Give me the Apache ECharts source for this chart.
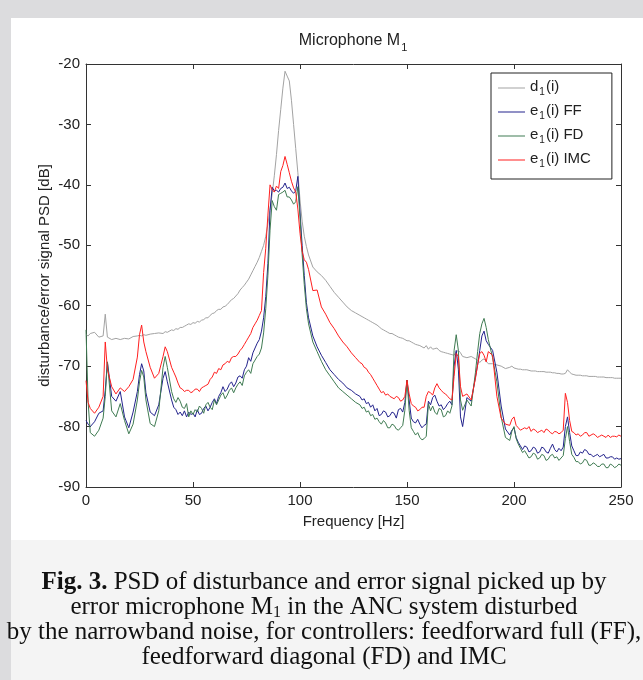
<!DOCTYPE html>
<html><head><meta charset="utf-8">
<script src="https://cdn.jsdelivr.net/npm/echarts@6/dist/echarts.min.js"></script>
<style>html,body{margin:0;padding:0;background:#dcdcde}#c{width:643px;height:680px}</style>
</head><body><div id="c"></div>
<script>
// frequency grid [Hz]
const freq = [
0,1,2,4,6,8,9,10,12,14,
16,18,20,22,24,25,26,27,28,30,
32,34,36,37,38,40,41,42,43,44,
45,46,47,48,49,50,51,52,53,54,
55,56,57,58,59,60,61,62,63,64,
65,66,67,68,69,70,71,72,73,74,
75,76,77,78,79,80,81,82,83,84,
85,86,87,88,89,90,91,92,93,94,
95,96,97,98,99,100,101,102,103,104,
106,108,110,112,114,116,118,120,122,124,
126,128,129,130,131,132,133,134,135,136,
137,138,139,140,141,142,143,144,145,146,
147,148,149,150,151,152,153,154,155,156,
157,158,159,160,161,162,163,164,165,166,
167,168,169,170,171,172,173,174,175,176,
178,180,182,183,184,185,186,187,188,190,
192,194,196,198,199,200,201,202,203,204,
205,206,207,208,209,210,211,212,213,214,
215,216,217,218,219,220,221,222,223,224,
225,226,227,228,229,230,231,232,233,234,
235,236,237,238,239,240,241,242,243,244,
245,246,247,248,249,250];
// d1(i) disturbance PSD [dB]
const d1 = [
-64.8,-65.0,-64.6,-64.4,-65.2,-65.0,-61.4,-65.2,-65.6,-65.4,
-65.6,-65.4,-65.5,-65.1,-65.0,-64.9,-65.0,-64.8,-64.9,-64.7,
-64.6,-64.5,-64.6,-64.3,-64.4,-64.0,-64.1,-63.8,-63.9,-63.6,
-63.6,-63.4,-63.2,-63.0,-63.1,-62.8,-62.9,-62.6,-62.7,-62.4,
-62.3,-62.0,-62.0,-61.6,-61.3,-61.2,-60.8,-60.6,-60.6,-60.2,
-60.1,-59.8,-59.4,-59.0,-58.8,-58.4,-58.0,-57.4,-57.0,-56.6,
-56.1,-55.6,-54.9,-54.2,-53.5,-52.8,-52.0,-51.0,-50.0,-48.5,
-46.5,-44.0,-41.5,-38.5,-35.0,-31.0,-27.5,-24.0,-21.2,-22.0,
-22.8,-26.0,-30.0,-34.0,-38.0,-42.5,-46.0,-48.5,-50.2,-51.6,
-53.6,-54.4,-55.0,-55.8,-56.8,-57.8,-58.6,-59.4,-60.2,-60.8,
-61.2,-61.6,-61.8,-62.0,-62.2,-62.4,-62.6,-62.8,-63.0,-63.2,
-63.5,-63.8,-64.0,-64.2,-64.4,-64.6,-64.6,-64.8,-65.0,-65.2,
-65.3,-65.4,-65.6,-65.8,-65.8,-66.0,-66.2,-66.4,-66.5,-66.6,
-66.8,-67.0,-66.6,-67.2,-66.8,-67.2,-67.1,-67.0,-67.4,-67.6,
-67.7,-67.8,-67.9,-68.0,-68.1,-68.2,-67.6,-67.4,-67.8,-68.4,
-68.6,-68.4,-68.8,-69.0,-69.4,-69.0,-68.8,-69.2,-69.6,-69.6,
-69.8,-70.0,-70.4,-70.2,-70.0,-70.3,-70.4,-70.5,-70.5,-70.6,
-70.6,-70.6,-70.7,-70.8,-70.8,-70.8,-70.9,-70.9,-70.9,-70.9,
-71.0,-71.0,-71.0,-71.1,-71.1,-71.2,-71.2,-71.3,-71.3,-71.2,
-70.6,-71.0,-71.3,-71.4,-71.5,-71.5,-71.5,-71.6,-71.6,-71.6,
-71.7,-71.7,-71.7,-71.7,-71.8,-71.8,-71.8,-71.8,-71.9,-71.9,
-71.9,-71.9,-72.0,-72.0,-72.0,-72.0];
// e1(i) FF
const eFF = [
-79.0,-79.6,-80.0,-79.2,-77.8,-77.4,-74.0,-69.3,-75.0,-75.8,
-74.2,-78.4,-80.2,-77.6,-74.2,-71.4,-69.6,-70.8,-74.4,-77.6,
-78.2,-76.4,-72.0,-70.9,-72.6,-75.6,-76.8,-77.2,-78.0,-77.6,
-78.2,-77.4,-78.4,-77.6,-78.0,-77.8,-78.4,-77.2,-78.0,-77.8,
-77.0,-76.6,-77.4,-76.8,-76.0,-75.4,-76.2,-75.0,-74.4,-73.4,
-74.2,-73.8,-73.0,-72.6,-73.4,-72.8,-71.8,-71.6,-72.0,-70.6,
-70.0,-68.6,-69.2,-67.8,-67.0,-66.2,-65.6,-64.2,-62.0,-58.5,
-53.0,-44.2,-40.4,-41.0,-40.9,-41.2,-40.6,-40.4,-39.7,-40.6,
-40.4,-41.0,-41.4,-41.0,-38.6,-44.5,-50.0,-55.0,-59.5,-62.0,
-65.0,-66.8,-68.2,-69.4,-70.6,-71.4,-72.2,-72.8,-73.6,-74.0,
-74.6,-75.0,-75.6,-75.4,-76.2,-76.0,-76.8,-76.4,-77.4,-77.0,
-78.2,-78.0,-77.4,-77.6,-78.4,-78.2,-77.6,-77.8,-78.6,-77.2,
-77.0,-77.6,-76.0,-72.3,-75.6,-78.6,-79.2,-79.4,-78.8,-79.6,
-80.2,-79.8,-79.6,-75.8,-76.4,-75.2,-74.8,-75.8,-76.6,-76.4,
-77.2,-76.8,-76.2,-75.8,-76.4,-70.0,-67.4,-70.5,-78.4,-80.0,
-75.2,-75.8,-71.8,-69.8,-67.4,-65.0,-64.2,-65.8,-66.4,-67.4,
-71.0,-76.6,-80.4,-81.4,-80.6,-80.2,-81.8,-82.6,-83.2,-83.8,
-83.2,-83.4,-84.2,-84.0,-83.4,-83.6,-84.4,-84.2,-83.4,-83.6,
-84.2,-84.4,-83.6,-82.9,-83.8,-84.2,-83.6,-84.0,-83.4,-80.0,
-78.4,-81.0,-83.2,-84.0,-84.8,-84.8,-84.2,-84.4,-83.8,-84.0,
-84.6,-84.6,-85.0,-84.8,-84.6,-85.0,-84.8,-84.6,-85.2,-85.2,
-85.0,-85.0,-85.4,-85.2,-85.4,-85.3];
// e1(i) FD
const eFD = [
-64.0,-76.0,-81.0,-81.6,-80.6,-78.6,-75.0,-69.3,-77.4,-78.4,
-76.2,-79.0,-81.2,-79.6,-75.6,-72.6,-70.7,-71.8,-75.6,-79.5,
-80.0,-77.4,-70.2,-68.4,-70.2,-74.2,-75.4,-76.0,-75.2,-75.8,
-76.8,-77.0,-76.2,-78.4,-77.4,-78.0,-77.2,-77.6,-76.6,-77.0,
-77.8,-76.4,-76.0,-76.8,-77.2,-75.6,-76.4,-75.6,-74.8,-74.4,
-75.4,-74.8,-74.0,-73.6,-74.4,-73.6,-73.0,-72.6,-73.2,-71.6,
-71.0,-70.6,-71.2,-69.6,-69.0,-68.4,-68.0,-67.0,-64.5,-60.5,
-55.0,-47.5,-42.6,-43.6,-44.2,-41.6,-41.4,-41.2,-40.9,-42.0,
-42.0,-42.5,-43.2,-42.8,-40.3,-45.3,-51.5,-56.5,-60.5,-63.0,
-66.0,-67.6,-69.2,-70.6,-71.6,-72.6,-73.6,-74.2,-74.8,-75.4,
-76.0,-76.4,-77.0,-76.8,-77.6,-77.4,-78.2,-78.0,-78.8,-78.6,
-79.2,-79.6,-79.0,-79.4,-80.2,-80.2,-79.6,-79.8,-80.4,-80.6,
-80.2,-79.8,-77.3,-72.3,-77.3,-80.2,-80.8,-81.4,-81.0,-81.8,
-82.2,-82.0,-81.6,-76.2,-77.4,-76.6,-77.6,-78.0,-77.0,-77.2,
-78.4,-78.2,-77.4,-77.8,-76.6,-67.4,-64.8,-67.4,-75.6,-77.3,
-75.6,-76.6,-71.0,-67.6,-64.6,-63.0,-62.1,-63.6,-65.6,-68.6,
-72.6,-78.4,-81.8,-82.3,-80.8,-80.0,-82.0,-82.9,-83.6,-84.3,
-84.0,-84.6,-85.2,-85.0,-84.4,-84.6,-85.4,-85.2,-84.6,-84.8,
-85.6,-85.4,-84.8,-84.6,-85.2,-85.0,-85.6,-85.2,-84.8,-82.0,
-80.0,-82.5,-84.6,-85.1,-85.8,-85.8,-86.2,-86.0,-85.4,-85.6,
-86.4,-86.4,-86.0,-86.2,-86.6,-86.6,-86.2,-86.2,-86.8,-86.8,
-86.2,-86.4,-86.8,-86.6,-86.2,-86.4];
// e1(i) IMC
const eIMC = [
-72.4,-76.0,-77.0,-77.8,-76.8,-75.0,-66.0,-70.5,-73.4,-74.6,
-73.6,-74.2,-73.4,-72.2,-68.5,-64.8,-63.2,-66.0,-67.6,-70.2,
-72.0,-71.2,-68.4,-66.8,-67.6,-70.2,-71.0,-71.8,-72.8,-73.6,
-73.8,-74.2,-74.0,-74.0,-74.4,-74.2,-73.8,-73.8,-74.2,-73.6,
-73.4,-73.2,-73.0,-72.2,-71.8,-71.0,-71.2,-70.4,-70.6,-69.8,
-69.6,-69.2,-69.4,-68.6,-68.4,-68.4,-68.0,-67.4,-67.0,-66.4,
-65.8,-65.2,-64.6,-63.6,-63.0,-62.4,-61.6,-60.8,-54.5,-50.5,
-45.0,-40.0,-40.8,-41.2,-40.2,-40.6,-37.8,-36.8,-35.3,-36.6,
-38.0,-39.4,-40.5,-41.2,-44.0,-48.0,-51.0,-52.4,-52.8,-54.0,
-57.5,-57.4,-60.2,-61.4,-62.8,-63.8,-65.0,-66.0,-66.8,-67.8,
-68.6,-69.4,-69.6,-70.2,-70.4,-71.0,-71.4,-72.0,-72.6,-73.2,
-73.8,-74.4,-74.2,-74.8,-74.6,-75.0,-75.2,-75.4,-75.0,-75.2,
-75.8,-75.6,-75.0,-72.3,-74.6,-76.2,-76.6,-76.8,-77.4,-77.2,
-76.8,-76.8,-75.0,-74.2,-74.4,-74.8,-73.6,-72.9,-73.6,-74.0,
-74.4,-74.6,-75.0,-75.4,-75.6,-71.7,-67.9,-68.4,-73.4,-75.0,
-74.6,-75.6,-72.0,-69.8,-67.9,-67.6,-68.2,-69.3,-67.6,-68.2,
-75.0,-78.6,-79.6,-79.8,-78.8,-78.4,-79.8,-80.2,-80.6,-80.4,
-80.2,-80.4,-80.0,-80.8,-80.4,-80.6,-81.0,-80.8,-80.6,-81.0,
-80.4,-80.6,-81.0,-81.2,-80.8,-80.9,-81.2,-81.0,-80.6,-74.5,
-76.0,-79.0,-80.8,-81.0,-81.4,-81.2,-81.6,-81.4,-81.0,-81.0,
-81.6,-81.4,-81.2,-81.4,-81.8,-81.6,-81.4,-81.6,-81.8,-81.4,
-81.8,-81.6,-81.6,-81.7,-81.4,-81.6];

const xTicks = [0, 50, 100, 150, 200, 250];
const yTicks = [-90, -80, -70, -60, -50, -40, -30, -20];
const seriesNames = ['d1', 'FF', 'FD', 'IMC'];
const legendLabels = {
  d1: '{t|d}{s|1}{t|(i)}',
  FF: '{t|e}{s|1}{t|(i) FF}',
  FD: '{t|e}{s|1}{t|(i) FD}',
  IMC: '{t|e}{s|1}{t|(i) IMC}'
};
const seriesValues = [d1, eFF, eFD, eIMC];
const seriesColors = ['#a3a3a3', '#22228c', '#3f7b52', '#ff1f1f'];

const F = "'Liberation Sans', Arial, sans-serif";
const SERIF = "'Liberation Serif', 'Times New Roman', serif";
const TXT = '#222';
const CAP = 25;

const chart = echarts.init(document.getElementById('c'), null, {renderer: 'canvas'});

const axisCommonX = {
  type: 'value', min: xTicks[0], max: xTicks[xTicks.length - 1], interval: xTicks[1] - xTicks[0],
  axisLine: {show: true, onZero: false, lineStyle: {color: '#333', width: 1}},
  axisTick: {show: true, inside: true, length: 5, lineStyle: {color: '#333', width: 1}},
  splitLine: {show: false}
};
const axisCommonY = {
  type: 'value', min: yTicks[0], max: yTicks[yTicks.length - 1], interval: yTicks[1] - yTicks[0],
  axisLine: {show: true, onZero: false, lineStyle: {color: '#333', width: 1}},
  axisTick: {show: true, inside: true, length: 5, lineStyle: {color: '#333', width: 1}},
  splitLine: {show: false}
};

const option = {
  animation: false,
  backgroundColor: '#dcdcde',
  grid: {left: 86, top: 64, right: 22, bottom: 193, containLabel: false, show: false},
  xAxis: [
    Object.assign({}, axisCommonX, {
      position: 'bottom',
      axisLabel: {color: TXT, fontSize: 15, fontFamily: F, margin: 6, showMinLabel: true, showMaxLabel: true},
      name: 'Frequency [Hz]', nameLocation: 'middle', nameGap: 27, nameMoveOverlap: false,
      nameTextStyle: {color: TXT, fontSize: 15, fontFamily: F}
    }),
    Object.assign({}, axisCommonX, {position: 'top', axisLabel: {show: false}})
  ],
  yAxis: [
    Object.assign({}, axisCommonY, {
      position: 'left',
      axisLabel: {color: TXT, fontSize: 15, fontFamily: F, margin: 6, showMinLabel: true, showMaxLabel: true},
      name: 'disturbance/error signal PSD [dB]', nameLocation: 'middle', nameGap: 34, nameMoveOverlap: false,
      nameTextStyle: {color: TXT, fontSize: 15, fontFamily: F}
    }),
    Object.assign({}, axisCommonY, {position: 'right', axisLabel: {show: false}})
  ],
  legend: {
    orient: 'vertical', left: 491, top: 73,
    icon: 'rect', itemWidth: 27, itemHeight: 1, itemGap: 6,
    padding: [6, 21, 10, 7],
    backgroundColor: '#fff', borderColor: '#222', borderWidth: 1, borderRadius: 0,
    data: seriesNames,
    formatter: function (name) { return legendLabels[name]; },
    textStyle: {
      color: TXT,
      rich: {
        t: {fontSize: 15, fontFamily: F, color: TXT, verticalAlign: 'top'},
        s: {fontSize: 10, fontFamily: F, color: TXT, verticalAlign: 'top', padding: [8, 1, 0, 1]}
      }
    }
  },
  graphic: [
    {type: 'rect', z: -100, silent: true, shape: {x: 11, y: 18, width: 632, height: 522}, style: {fill: '#ffffff'}},
    {type: 'rect', z: -100, silent: true, shape: {x: 11, y: 540, width: 632, height: 140}, style: {fill: '#f4f4f4'}},
    {type: 'text', x: 353, y: 33, silent: true, style: {
      text: '{a|Microphone M}{s|1}', align: 'center', verticalAlign: 'top',
      rich: {
        a: {fontSize: 16, fontFamily: F, fill: TXT, verticalAlign: 'top'},
        s: {fontSize: 11, fontFamily: F, fill: TXT, verticalAlign: 'top', padding: [9, 0, 0, 1]}
      }
    }},
    {type: 'text', x: 324, y: 570, silent: true, style: {
      text: '{b|Fig. 3.}{n| PSD of disturbance and error signal picked up by}', align: 'center', verticalAlign: 'top',
      rich: {b: {fontSize: CAP, fontFamily: SERIF, fontWeight: 'bold', fill: '#111', verticalAlign: 'top'}, n: {fontSize: CAP, fontFamily: SERIF, fill: '#111', verticalAlign: 'top'}}
    }},
    {type: 'text', x: 324, y: 595, silent: true, style: {
      text: '{n|error microphone M}{s|1}{n| in the ANC system disturbed}', align: 'center', verticalAlign: 'top',
      rich: {n: {fontSize: CAP, fontFamily: SERIF, fill: '#111', verticalAlign: 'top'}, s: {fontSize: 16, fontFamily: SERIF, fill: '#111', verticalAlign: 'top', padding: [10, 0, 0, 0]}}
    }},
    {type: 'text', x: 324, y: 620, silent: true, style: {
      text: 'by the narrowband noise, for controllers: feedforward full (FF),', align: 'center', verticalAlign: 'top',
      fontSize: CAP, fontFamily: SERIF, fill: '#111'
    }},
    {type: 'text', x: 324, y: 645, silent: true, style: {
      text: 'feedforward diagonal (FD) and IMC', align: 'center', verticalAlign: 'top',
      fontSize: CAP, fontFamily: SERIF, fill: '#111'
    }}
  ],
  series: seriesNames.map(function (name, k) {
    return {
      name: name, type: 'line', xAxisIndex: 0, yAxisIndex: 0,
      symbol: 'none', showSymbol: false, smooth: false,
      lineStyle: {color: seriesColors[k], width: 1},
      itemStyle: {color: seriesColors[k]},
      emphasis: {disabled: true},
      data: freq.map(function (f, i) { return [f, seriesValues[k][i]]; }),
      z: 2 + k
    };
  })
};
chart.setOption(option);
</script>
</body></html>
